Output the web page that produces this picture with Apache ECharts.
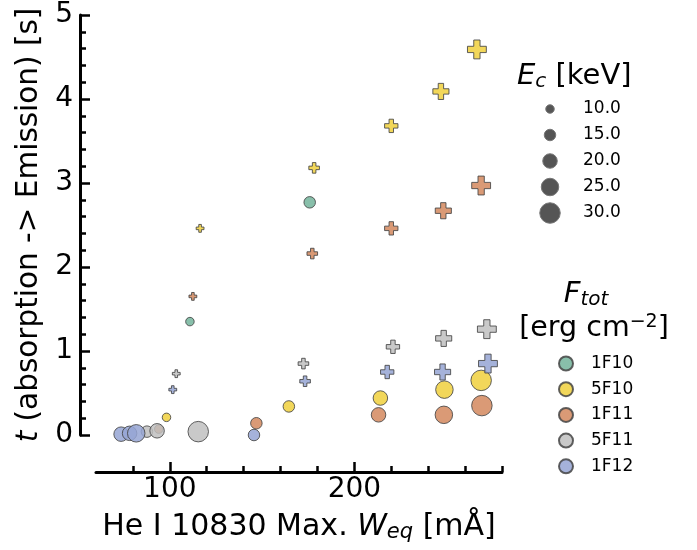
<!DOCTYPE html>
<html>
<head>
<meta charset="utf-8">
<script src="https://cdn.jsdelivr.net/npm/echarts@6/dist/echarts.min.js"></script>
<style>
  html, body { margin: 0; padding: 0; background: #fff; }
  #chart { width: 697px; height: 550px; }
</style>
</head>
<body>
<div id="chart"></div>
<script>
// flux levels (colour) and electron cut-off energies (marker size)
var fluxLevels = ['1F10', '5F10', '1F11', '5F11', '1F12'];
var fluxColors = ['#73b49b', '#f0d03d', '#d3885e', '#c0c0c0', '#95a4d3'];
var ecLevels = [10, 15, 20, 25, 30];
var ecLabels = ['10.0', '15.0', '20.0', '25.0', '30.0'];

// [W_eq (mA), t (s), Ec (keV)] -- circles
var circ1F10 = [[110.9, 1.35, 10], [175.8, 2.77, 15]];
var circ5F10 = [[98.2, 0.21, 10], [164.5, 0.34, 15], [214.1, 0.44, 20], [248.8, 0.54, 25], [268.7, 0.65, 30]];
var circ1F11 = [[94.0, 0.07, 10], [146.9, 0.14, 15], [213.1, 0.24, 20], [248.5, 0.24, 25], [269.1, 0.35, 30]];
var circ5F11 = [[87.6, 0.04, 15], [93.1, 0.05, 20], [115.4, 0.04, 30]];
var circ1F12 = [[73.6, 0.01, 20], [78.2, 0.02, 20], [81.8, 0.02, 25], [145.6, 0.0, 15]];

// [W_eq (mA), t (s), Ec (keV)] -- plus markers
var plus5F10 = [[116.4, 2.46, 10], [178.2, 3.18, 15], [220.0, 3.68, 20], [246.9, 4.09, 25], [266.4, 4.59, 30]];
var plus1F11 = [[112.5, 1.65, 10], [177.2, 2.16, 15], [220.0, 2.46, 20], [248.2, 2.67, 25], [268.7, 2.97, 30]];
var plus5F11 = [[103.5, 0.73, 10], [172.4, 0.85, 15], [220.9, 1.05, 20], [248.4, 1.15, 25], [271.8, 1.26, 30]];
var plus1F12 = [[101.6, 0.54, 10], [173.3, 0.64, 15], [217.8, 0.75, 20], [247.8, 0.75, 25], [272.4, 0.85, 30]];

var xMajor = [100, 200];
var xMinor = [80, 120, 140, 160, 180, 220, 240, 260, 280];

var FONT = 'DejaVu Sans';
var PLUS = 'path://M1,0H2V1H3V2H2V3H1V2H0V1H1Z';

function diam(ec) { return 2.5 + 0.6 * ec; }

function mk(idx, data, plus) {
  return {
    type: 'scatter',
    name: fluxLevels[idx],
    data: data,
    symbol: plus ? PLUS : 'circle',
    symbolSize: function (v) { return plus ? 0.92 * diam(v[2]) : diam(v[2]); },
    itemStyle: {
      color: fluxColors[idx],
      borderColor: '#444',
      borderWidth: 1,
      opacity: 0.85
    },
    emphasis: { disabled: true },
    clip: false
  };
}

var series = [
  mk(0, circ1F10, false),
  mk(1, circ5F10, false),
  mk(2, circ1F11, false),
  mk(3, circ5F11, false),
  mk(4, circ1F12, false),
  mk(1, plus5F10, true),
  mk(2, plus1F11, true),
  mk(3, plus5F11, true),
  mk(4, plus1F12, true)
];

var subRich = {
  i: { fontStyle: 'italic', fontSize: 29, fontFamily: FONT, lineHeight: 32 },
  s: { fontStyle: 'italic', fontSize: 20, fontFamily: FONT, lineHeight: 12, verticalAlign: 'bottom' }
};

// size legend (Ec)
var graphics = [];
ecLevels.forEach(function (ec, i) {
  var y = 109 + 26 * i;
  graphics.push({
    type: 'circle',
    shape: { cx: 550, cy: y, r: diam(ec) / 2 },
    style: { fill: '#555', stroke: '#777', lineWidth: 1 }
  });
  graphics.push({
    type: 'text',
    x: 583, y: y,
    style: { text: ecLabels[i], fill: '#000', fontSize: 17, fontFamily: FONT, verticalAlign: 'middle' }
  });
});
graphics.push({
  type: 'text', x: 517, y: 76,
  style: {
    text: '{i|E}{s|c} [keV]', fill: '#000', fontSize: 29, fontFamily: FONT, lineHeight: 32,
    verticalAlign: 'middle', rich: subRich
  }
});
graphics.push({
  type: 'text', x: 586, y: 294,
  style: {
    text: '{i|F}{s|tot}', fill: '#000', fontSize: 29, fontFamily: FONT, lineHeight: 32,
    align: 'center', verticalAlign: 'middle', rich: subRich
  }
});
graphics.push({
  type: 'text', x: 594, y: 329,
  style: {
    text: '[erg cm{p|\u22122}]', fill: '#000', fontSize: 28.5, fontFamily: FONT, lineHeight: 32,
    align: 'center', verticalAlign: 'middle',
    rich: {
      p: { fontSize: 19, fontFamily: FONT, lineHeight: 12, verticalAlign: 'top' }
    }
  }
});

var chart = echarts.init(document.getElementById('chart'));
var option = {
  animation: false,
  backgroundColor: '#fff',
  grid: { left: 96, right: 195, top: 15, bottom: 115 },
  xAxis: [{
    type: 'value', min: 60, max: 280, position: 'bottom', offset: 37,
    axisLine: { show: true, onZero: false, lineStyle: { color: '#000', width: 3 } },
    axisTick: { show: true, inside: true, length: 10, customValues: xMajor, lineStyle: { color: '#000', width: 2.5 } },
    axisLabel: { customValues: xMajor, fontSize: 28, fontFamily: FONT, color: '#000', margin: 4 },
    splitLine: { show: false },
    name: 'He I 10830 Max. {i|W}{s|eq} [mÅ]',
    nameLocation: 'middle',
    nameGap: 39,
    nameTextStyle: {
      fontSize: 30, fontFamily: FONT, color: '#000', lineHeight: 32,
      rich: {
        i: { fontStyle: 'italic', fontSize: 30, fontFamily: FONT, lineHeight: 32 },
        s: { fontStyle: 'italic', fontSize: 21, fontFamily: FONT, lineHeight: 12, verticalAlign: 'bottom' }
      }
    }
  }, {
    type: 'value', min: 60, max: 280, position: 'bottom', offset: 37,
    axisLine: { show: false, onZero: false },
    axisTick: { show: true, inside: true, length: 6, customValues: xMinor, lineStyle: { color: '#000', width: 2.5 } },
    axisLabel: { show: false },
    splitLine: { show: false }
  }],
  yAxis: {
    type: 'value', min: 0, max: 5, interval: 1, offset: 16,
    axisLine: { show: true, onZero: false, lineStyle: { color: '#000', width: 3 } },
    axisTick: { show: true, inside: true, length: 10, lineStyle: { color: '#000', width: 2.5 } },
    minorTick: { show: true, splitNumber: 5, length: 6, lineStyle: { color: '#000', width: 2.5 } },
    axisLabel: { fontSize: 28, fontFamily: FONT, color: '#000', margin: 7 },
    splitLine: { show: false },
    name: '{i|t} (absorption -> Emission) [s]',
    nameLocation: 'middle',
    nameGap: 35,
    nameTextStyle: {
      fontSize: 29.5, fontFamily: FONT, color: '#000',
      rich: { i: { fontStyle: 'italic', fontSize: 29.5, fontFamily: FONT } }
    }
  },
  legend: {
    data: fluxLevels.map(function (n) { return { name: n, icon: 'circle' }; }),
    orient: 'vertical',
    left: 553, top: 350,
    itemWidth: 14, itemHeight: 14, itemGap: 8.7,
    selectedMode: false,
    textStyle: { fontSize: 17, fontFamily: FONT, color: '#000', padding: [0, 0, 0, 13] }
  },
  graphic: graphics,
  series: series
};
chart.setOption(option);
</script>
</body>
</html>
